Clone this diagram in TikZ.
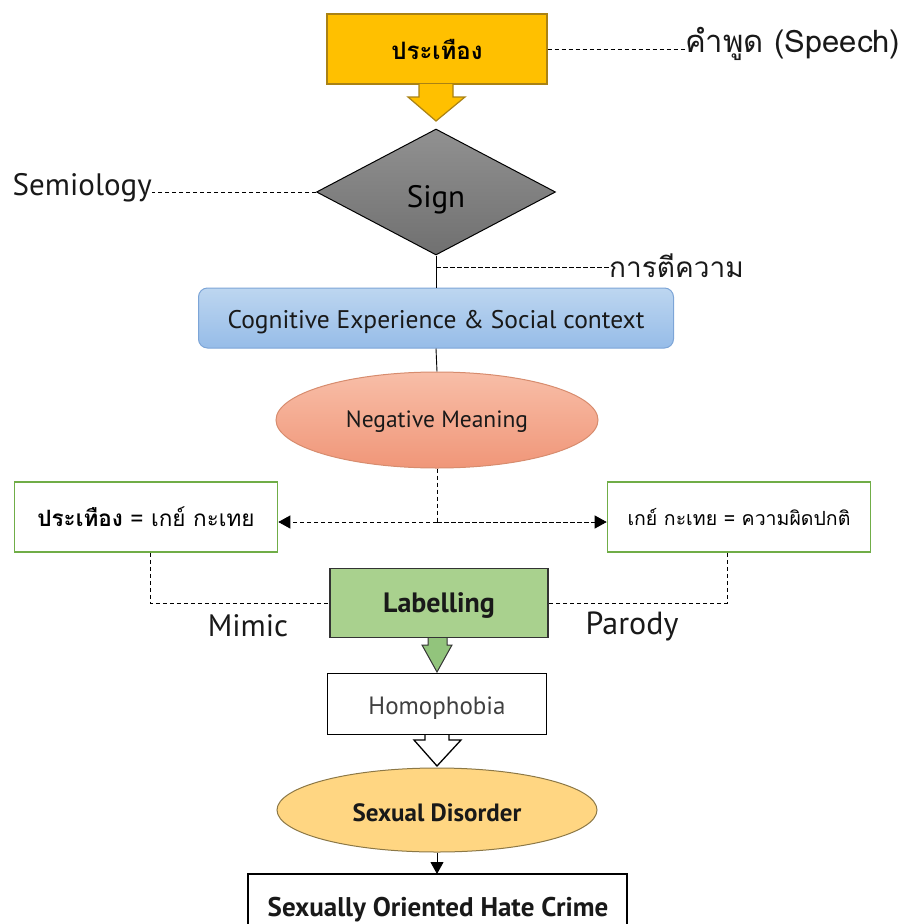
\documentclass[tikz,border=0pt]{standalone}
\usepackage{fontspec}
\usetikzlibrary{shapes.geometric,arrows.meta}
\setmainfont{PT Sans}
\newfontfamily\thai[Script=Thai]{Loma}
\definecolor{gold}{RGB}{255,192,0}
\definecolor{goldedge}{RGB}{170,130,20}
\definecolor{graytop}{RGB}{145,145,145}
\definecolor{graybot}{RGB}{112,112,112}
\definecolor{bluetop}{RGB}{189,214,240}
\definecolor{bluebot}{RGB}{150,188,232}
\definecolor{blueedge}{RGB}{125,165,215}
\definecolor{salmontop}{RGB}{248,190,168}
\definecolor{salmonbot}{RGB}{240,150,120}
\definecolor{salmonedge}{RGB}{215,140,110}
\definecolor{greenedge}{RGB}{112,173,71}
\definecolor{labelgreen}{RGB}{169,209,142}
\definecolor{arrowgreen}{RGB}{146,196,124}
\definecolor{sdfill}{RGB}{255,214,130}
\definecolor{sdedge}{RGB}{140,120,70}
\definecolor{txt}{RGB}{25,25,25}
\tikzset{
  dashline/.style={draw=black, line width=0.9pt, dash pattern=on 4.5pt off 2.5pt},
  thaibox/.style={draw=greenedge, line width=1.6pt, fill=white, minimum width=263pt, minimum height=70pt, inner sep=0pt},
  plainbox/.style={draw=black, line width=1.5pt, fill=white, inner sep=0pt},
  solidline/.style={draw=black, line width=0.9pt},
  lbl/.style={inner sep=0pt, text=txt},
  tri/.style={-{Triangle[length=12pt,width=13pt]}},
}
\begin{document}
\begin{tikzpicture}[x=1pt,y=-1pt]
\useasboundingbox (0,0) rectangle (908,924);
% top box
\node[draw=goldedge, line width=1.2pt, fill=gold, minimum width=220pt, minimum height=70pt, inner sep=0pt] (top) at (437,49) {\thai\bfseries\fontsize{24}{28}\selectfont ประเทือง};
\draw[draw=goldedge, line width=1.2pt, fill=gold] (419,84) -- (419,97) -- (408,97) -- (436,121) -- (465,97) -- (453,97) -- (453,84);
\node[lbl, anchor=west] (speech) at (685,44) {\thai\fontsize{31}{35}\selectfont คำพูด (Speech)};
\draw[dashline] (top.east) -- (top.east -| speech.west);
% diamond
\node[diamond, draw=black, line width=1pt, top color=graytop, bottom color=graybot, shape aspect=1.9, minimum width=239pt, minimum height=126pt, inner sep=0pt] (sign) at (436,192) {};
\node[lbl, text=black] (signt) at (436,200) {\fontsize{31}{36}\selectfont Sign};
\node[lbl, anchor=east] (semio) at (152,188) {\fontsize{31}{36}\selectfont Semiology};
\draw[dashline] (sign.west) -- (sign.west -| semio.east);
% cognitive box
\node[draw=blueedge, line width=1pt, rounded corners=9pt, top color=bluetop, bottom color=bluebot, minimum width=475pt, minimum height=60pt, inner sep=0pt] (cog) at (436,318) {};
\node[lbl] (cogt) at (436,322) {\fontsize{25.5}{30}\selectfont Cognitive Experience \& Social context};
\draw[solidline] (sign.south) -- (cog.north);
\coordinate (interp) at (436,267);
\node[lbl, anchor=west] (interpt) at (609,266) {\thai\fontsize{28}{32}\selectfont การตีความ};
\draw[dashline] (interp) -- (interp -| interpt.west);
% negative meaning
\node[ellipse, draw=salmonedge, line width=1pt, top color=salmontop, bottom color=salmonbot, minimum width=322pt, minimum height=96pt, inner sep=0pt] (neg) at (437,420) {};
\node[lbl] (negt) at (437,422) {\fontsize{23.5}{28}\selectfont Negative Meaning};
\draw[solidline] (cog.south) -- (neg.north);
% thai boxes
\node[thaibox] (lbox) at (146,517) {\thai\fontsize{22.5}{26}\selectfont \textbf{ประเทือง} = เกย์ กะเทย};
\node[thaibox] (rbox) at (739,517) {\thai\fontsize{19.5}{24}\selectfont เกย์ กะเทย = ความผิดปกติ};
\coordinate (split) at (437,522);
\draw[dashline] (neg.south) -- (split);
\draw[dashline, tri] (split) -- (lbox.east |- split);
\draw[dashline, tri] (split) -- (rbox.west |- split);
% labelling
\node[draw=black!80, line width=1.2pt, fill=labelgreen, minimum width=218pt, minimum height=69pt, inner sep=0pt] (lab) at (439,603) {};
\node[lbl] (labt) at (439,606) {\bfseries\fontsize{28}{32}\selectfont Labelling};
\coordinate (lc) at (150,603);
\coordinate (rc) at (727,603);
\draw[dashline] (lbox.south -| lc) -- (lc) -- (lab.west);
\draw[dashline] (rbox.south -| rc) -- (rc) -- (lab.east);
\node[lbl] (mimic) at (248,626) {\fontsize{31}{36}\selectfont Mimic};
\node[lbl] (parody) at (632,626) {\fontsize{32}{36}\selectfont Parody};
% green arrow
\draw[draw=black!80, line width=1pt, fill=arrowgreen] (428,638) -- (428,645) -- (422,645) -- (437,672) -- (452,645) -- (447,645) -- (447,638);
% homophobia
\node[plainbox, line width=1.3pt, minimum width=219pt, minimum height=61pt] (homo) at (437,704) {};
\node[lbl, text=black!75] (homot) at (437,708) {\fontsize{25}{30}\selectfont Homophobia};
\draw[draw=black, line width=1.3pt, fill=white] (425,735) -- (425,740) -- (414,740) -- (437,766) -- (461,740) -- (449,740) -- (449,735);
% sexual disorder
\node[ellipse, draw=sdedge, line width=1pt, fill=sdfill, minimum width=320pt, minimum height=84pt, inner sep=0pt] (sd) at (437,810) {};
\node[lbl] (sdt) at (437,813) {\bfseries\fontsize{25}{30}\selectfont Sexual Disorder};
% hate crime
\draw[plainbox] (248,874) rectangle (627,940);
\node[lbl] (hate) at (438,910) {\bfseries\fontsize{27}{32}\selectfont Sexually Oriented Hate Crime};
\coordinate (hatetop) at (437,874);
\draw[solidline, tri] (sd.south) -- (hatetop);
\end{tikzpicture}
\end{document}
